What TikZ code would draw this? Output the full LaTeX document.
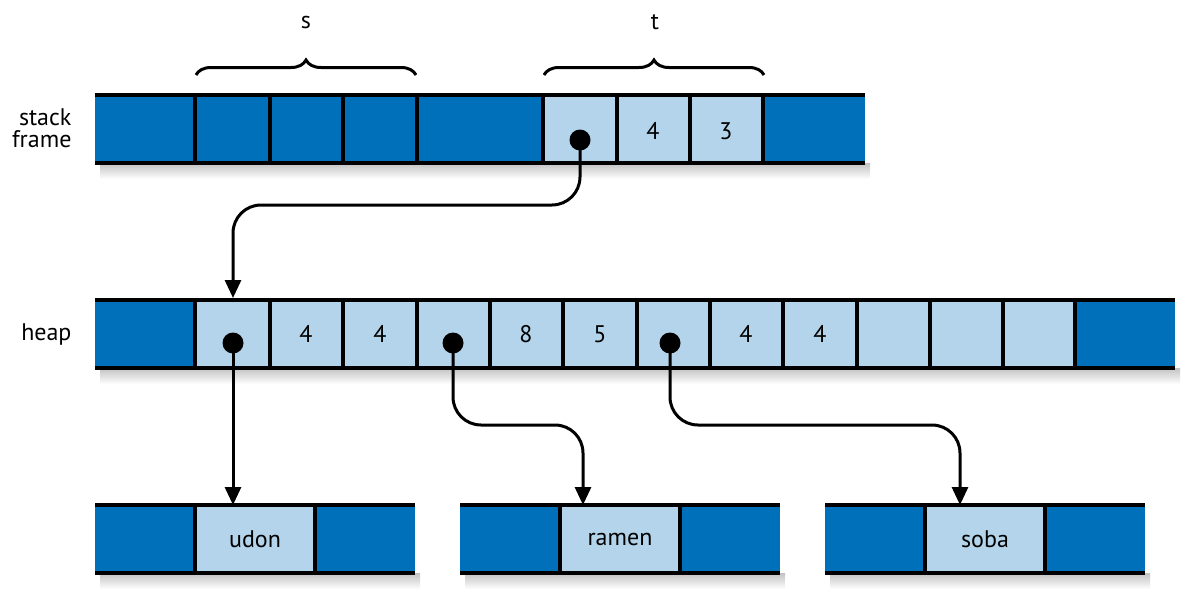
\documentclass[tikz,border=0pt]{standalone}
\usepackage{fontspec}
\setmainfont{PT Sans}
\usetikzlibrary{decorations.pathreplacing,arrows.meta}
\definecolor{dk}{HTML}{0070BA}
\definecolor{lt}{HTML}{B3D4EA}
\tikzset{
 lab/.style={font=\fontsize{24}{26}\selectfont},
 ptr/.style={line width=3pt,rounded corners=28,-{Triangle[length=18,width=16]}},
 dot/.style={circle,fill=black,inner sep=0,minimum size=21},
 rowline/.style={line width=4pt},
 brc/.style={line width=3pt,decorate,decoration={brace,amplitude=15}},
}
\begin{document}
\begin{tikzpicture}[x=1pt,y=-1pt]
\useasboundingbox (0,0) rectangle (1203,605);
\def\myrow#1#2#3#4#5{%
 \shade[top color=black!40,bottom color=white,opacity=.6] (#2+5,#1+68) rectangle (#3+5,#1+84);
 \foreach \a/\b/\c in {#5} {\fill[\c] (\a,#1) rectangle (\b,#1+68);}
 \foreach \xx in {#4} {\draw[line width=3.5pt] (\xx,#1) -- (\xx,#1+68);}
 \draw[rowline] (#2,#1) -- (#3,#1) (#2,#1+68) -- (#3,#1+68);
}
\myrow{95}{95}{865}{195,270,343,417,543,617,690,763}{95/543/dk,543/763/lt,763/865/dk}
\myrow{300}{95}{1175}{195,270,343,417,490,563,637,710,783,857,930,1003,1075}{95/195/dk,195/1075/lt,1075/1175/dk}
\myrow{505}{95}{415}{195,315}{95/195/dk,195/315/lt,315/415/dk}
\myrow{505}{460}{780}{560,680}{460/560/dk,560/680/lt,680/780/dk}
\myrow{505}{825}{1145}{925,1045}{825/925/dk,925/1045/lt,1045/1145/dk}
% texts
\node[lab] (s4) at (653,131) {4};
\node[lab] (s3) at (726,131) {3};
\foreach \x/\t/\n in {306/4/h1,380/4/h2,526/8/h3,600/5/h4,746/4/h5,820/4/h6}
 \node[lab] (\n) at (\x,334) {\t};
\node[lab] (udon) at (255,539) {udon};
\node[lab] (ramen) at (620,539) {ramen};
\node[lab] (soba) at (985,539) {soba};
\node[lab,anchor=east,align=right] (sf) at (75,128) {stack\\[-4pt]frame};
\node[lab,anchor=east] (hp) at (75,334) {heap};
\node[lab] (sl) at (306,22) {s};
\node[lab] (tl) at (655,22) {t};
\draw[brc] (196,75) -- (416,75);
\draw[brc] (544,75) -- (764,75);
% pointers
\node[dot] (d0) at (580,140) {};
\node[dot] (d1) at (233,343) {};
\node[dot] (d2) at (453,343) {};
\node[dot] (d3) at (670,343) {};
\coordinate (e0) at (233,298);
\coordinate (e1) at (233,505);
\coordinate (e2) at (583,505);
\coordinate (e3) at (960,505);
\draw[ptr] (d0.center) |- (233,205) -- (e0);
\draw[ptr] (d1.center) -- (e1);
\draw[ptr] (d2.center) |- (583,425) -- (e2);
\draw[ptr] (d3.center) |- (960,425) -- (e3);
\end{tikzpicture}
\end{document}
